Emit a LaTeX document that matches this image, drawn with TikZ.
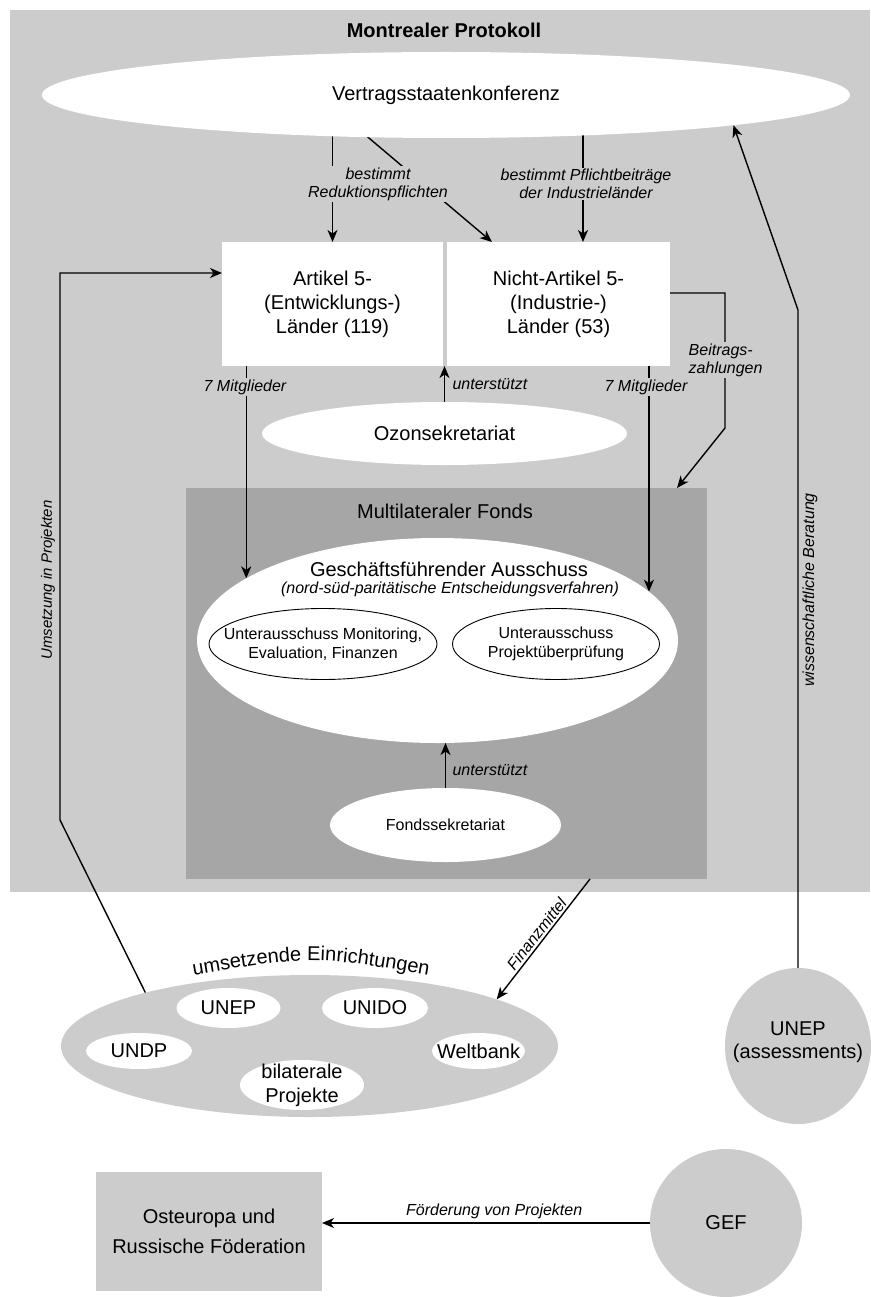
\documentclass[tikz,border=0pt]{standalone}
\usepackage{fontspec}
\setmainfont{Liberation Sans}
\usetikzlibrary{shapes.geometric,arrows.meta,calc,decorations.text}
\definecolor{panelgray}{RGB}{204,204,204}
\definecolor{fondsgray}{RGB}{166,166,166}
\pgfdeclarelayer{bg}
\pgfdeclarelayer{lines}
\pgfsetlayers{bg,lines,main}

\begin{document}
\begin{tikzpicture}[x=1pt,y=-1pt,
  big/.style={font=\fontsize{20}{24}\selectfont, align=center},
  mid/.style={font=\fontsize{16}{19}\selectfont, align=center},
  lbl/.style={font=\fontsize{16}{18}\selectfont\itshape, align=center},
  oval/.style={ellipse, fill=white, inner sep=0pt, outer sep=0pt},
  grayoval/.style={ellipse, fill=panelgray, inner sep=0pt, outer sep=0pt},
  subov/.style={ellipse, draw=black, line width=0.9pt, fill=white, inner sep=0pt, outer sep=0pt},
  gbox/.style={rectangle, inner sep=0pt, outer sep=0pt},
  link/.style={line width=1.4pt},
  arr/.style={link, -{Stealth[length=12pt,width=10pt,inset=3.5pt]}},
  tag/.style={lbl, fill=panelgray, inner sep=1.5pt},
]

% panels
\begin{pgfonlayer}{bg}
  \fill[white] (0,0) rectangle (870,1297);
  \node[gbox, fill=panelgray, anchor=north west, minimum width=860pt, minimum height=882pt] (mp) at (10,10) {};
  \node[gbox, fill=fondsgray, anchor=north west, minimum width=521pt, minimum height=391pt] (mf) at (186,488) {};
\end{pgfonlayer}
\useasboundingbox (0,0) rectangle (870,1297);

% Montreal Protocol bodies
\node[font=\fontsize{20}{24}\selectfont\bfseries] (mptitle) at (444,30) {Montrealer Protokoll};
\node[oval, big, minimum width=808pt, minimum height=86pt] (vsk) at (446,95) {Vertragsstaatenkonferenz};
\node[gbox, big, fill=white, minimum width=221pt, minimum height=124pt] (art5) at (332.5,304) {Artikel 5-\\(Entwicklungs-)\\Länder (119)};
\node[gbox, big, fill=white, minimum width=223pt, minimum height=124pt] (nart5) at (558.5,304) {Nicht-Artikel 5-\\(Industrie-)\\Länder (53)};
\node[oval, big, minimum width=365pt, minimum height=63pt] (ozon) at (444.5,433.5) {Ozonsekretariat};

% Multilateral Fund
\node[big] (mftitle) at (445,511) {Multilateraler Fonds};
\node[oval, minimum width=481pt, minimum height=205pt] (exec) at (437.5,640.5) {};
\node[big] (exectitle) at (449,569) {Geschäftsführender Ausschuss};
\node[lbl] (execsub) at (450,589) {(nord-süd-paritätische Entscheidungsverfahren)};
\node[subov, minimum width=228pt, minimum height=71pt] (monit) at (323,644) {};
\node[mid] (monittext) at (monit) {Unterausschuss Monitoring,\\Evaluation, Finanzen};
\node[subov, minimum width=207pt, minimum height=71pt] (projp) at (556,644) {};
\node[mid] (projptext) at (projp) {Unterausschuss\\Projektüberprüfung};
\node[oval, mid, minimum width=231pt, minimum height=74pt] (fsek) at (445.5,825) {Fondssekretariat};

% implementing agencies
\node[grayoval, minimum width=497pt, minimum height=142pt] (impl) at (309.5,1046) {};
\path[decorate, decoration={text along path, text align=center,
  text={|\fontsize{20}{24}\selectfont|umsetzende Einrichtungen}}]
  (183,977) .. controls (311,955) .. (439,977);
\node[oval, minimum width=104pt, minimum height=40pt] (unep) at (228.5,1008) {};
\node[big] (uneptext) at (unep) {UNEP};
\node[oval, minimum width=106pt, minimum height=40pt] (unido) at (375,1008) {};
\node[big] (unidotext) at (unido) {UNIDO};
\node[oval, minimum width=106pt, minimum height=36pt] (undp) at (139,1051) {};
\node[big] (undptext) at (undp) {UNDP};
\node[oval, minimum width=93pt, minimum height=36pt] (wb) at (478.5,1051) {};
\node[big] (wbtext) at (wb) {Weltbank};
\node[oval, minimum width=124pt, minimum height=50pt] (bilat) at (302,1085) {};
\node[big] (bilattext) at (bilat) {bilaterale\\Projekte};

% scientific assessment, GEF, Eastern Europe
\node[grayoval, minimum width=146pt, minimum height=156pt] (uneps) at (798,1046) {};
\node[font=\fontsize{20}{23}\selectfont, align=center] (unepstext) at (798,1042) {UNEP\\(assessments)};
\node[grayoval, big, minimum width=152pt, minimum height=148pt] (gef) at (726,1223) {GEF};
\node[gbox, fill=panelgray, font=\fontsize{20}{30}\selectfont, align=center,
  minimum width=226pt, minimum height=119pt] (oe) at (209,1231.5) {Osteuropa und\\Russische Föderation};

% connectors
\begin{pgfonlayer}{lines}
  \coordinate (diagend) at ($(nart5.north west)+(45,0)$);
  \coordinate (pflicht) at ($(nart5.north)+(24.5,0)$);
  \draw[arr] (vsk.center -| art5.north) -- (art5.north);
  \draw[arr] ($(vsk.center)+(-128,0)$) -- (diagend);
  \draw[arr] (vsk.center -| pflicht) -- (pflicht);

  \draw[arr] (ozon.north) -- (ozon.north |- art5.south);
  \draw[arr] (exec.162.4 |- art5.south) -- (exec.162.4);
  \draw[arr] (exec.13.8 |- nart5.south) -- (exec.13.8);
  \draw[arr] (fsek.north) -- (fsek.north |- exec.south);

  \coordinate (bz) at ($(nart5.north east)+(0,51)$);
  \draw[arr] (bz) -- ++(55,0) -- ++(0,135) -- ($(mf.north east)+(-30,0)$);

  \draw[arr] ($(mf.south west)+(404,0)$) --
    node[lbl, sloped, above, inner sep=2pt] (finlbl) {Finanzmittel} (impl.14.1);

  \coordinate (ubend) at (60,820);
  \coordinate (uin) at ($(art5.north west)+(0,31)$);
  \draw[arr] (impl.162.2) -- (ubend) -- (ubend |- uin) -- (uin);

  \coordinate (wbend) at (798,310);
  \draw[arr] (uneps.north) -- (uneps.north |- wbend) -- (vsk.354.4);

  \draw[arr] (gef.west) --
    node[lbl, above, pos=0.475] (fordlbl) {Förderung von Projekten} (gef.west -| oe.east);
\end{pgfonlayer}

% connector labels
\node[tag] (redlbl) at (378,184) {bestimmt\\Reduktionspflichten};
\node[tag] (pfllbl) at (586,184) {bestimmt Pflichtbeiträge\\der Industrieländer};
\node[tag] (mitglA) at (245,387) {7 Mitglieder};
\node[tag] (mitglB) at (646,387) {7 Mitglieder};
\node[lbl, anchor=west] (ustA) at (449,384) {unterstützt};
\node[lbl, anchor=west] (ustB) at (449,770) {unterstützt};
\node[tag, align=left, anchor=west] (btzlbl) at (687,360) {Beitrags-\\zahlungen};
\node[lbl, rotate=90, font=\fontsize{15}{18}\selectfont\itshape] (umslbl) at (48,580) {Umsetzung in Projekten};
\node[lbl, rotate=90] (wisslbl) at (810,590) {wissenschaftliche Beratung};

\end{tikzpicture}
\end{document}
